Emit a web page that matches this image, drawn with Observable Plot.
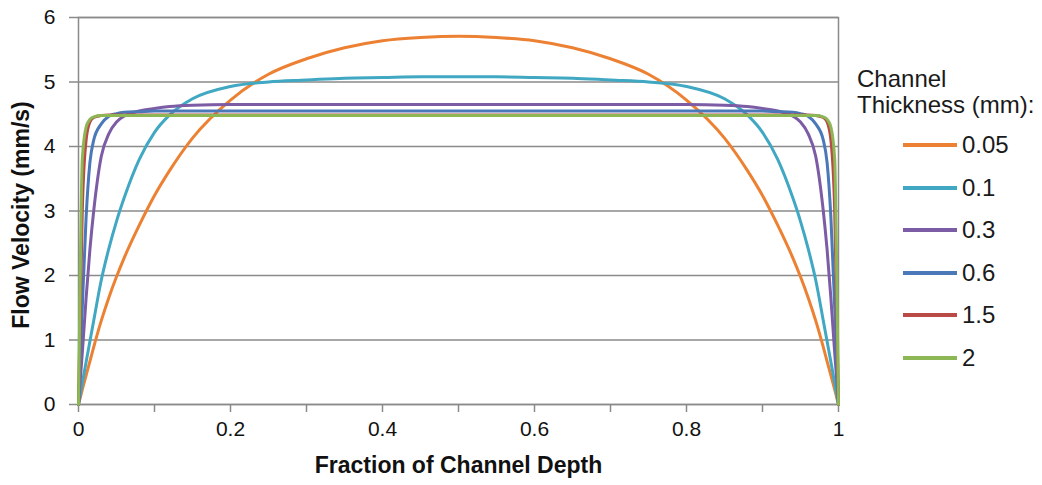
<!DOCTYPE html>
<html>
<head>
<meta charset="utf-8">
<script src="https://cdn.jsdelivr.net/npm/d3@7"></script>
<script src="https://cdn.jsdelivr.net/npm/@observablehq/plot@0.6"></script>
<style>
  body { margin: 0; background: #fff; font-family: "Liberation Sans", Arial, sans-serif; }
  #wrap { position: relative; width: 1042px; height: 485px; }
  #legend-title { position: absolute; left: 857px; top: 66px; font-size: 24px; line-height: 26px; color: #1a1a1a; white-space: nowrap; }
  .item { position: absolute; left: 903px; height: 26px; display: flex; align-items: center; font-size: 24px; color: #1a1a1a; }
  .swatch { display: inline-block; width: 54px; height: 4px; margin-right: 5px; }
</style>
</head>
<body>
<div id="wrap"></div>
<script>
// Fraction of channel depth at which velocities were sampled
const depth = [0, 0.002, 0.005, 0.01, 0.015, 0.02, 0.03, 0.04, 0.05, 0.06, 0.08, 0.1, 0.12, 0.15, 0.2, 0.25, 0.3, 0.35, 0.4, 0.45, 0.5,
               0.55, 0.6, 0.65, 0.7, 0.75, 0.8, 0.85, 0.88, 0.9, 0.92, 0.94, 0.95, 0.96, 0.97, 0.98, 0.985, 0.99, 0.995, 0.998, 1];

// Channel thickness (mm) of each profile
const thickness = ["0.05", "0.1", "0.3", "0.6", "1.5", "2"];

// Flow velocity (mm/s) per thickness
const vel005 = [0, 0.09, 0.23, 0.45, 0.67, 0.89, 1.3, 1.66, 1.98, 2.27, 2.78, 3.24, 3.63, 4.13, 4.72, 5.12, 5.36, 5.53, 5.64, 5.69, 5.71,
                5.69, 5.64, 5.53, 5.36, 5.12, 4.72, 4.13, 3.63, 3.24, 2.78, 2.27, 1.98, 1.66, 1.3, 0.89, 0.67, 0.45, 0.23, 0.09, 0];
const vel01 = [0, 0.13, 0.33, 0.66, 0.98, 1.3, 1.93, 2.42, 2.84, 3.2, 3.8, 4.22, 4.49, 4.74, 4.93, 5.0, 5.03, 5.06, 5.07, 5.08, 5.08,
               5.08, 5.07, 5.06, 5.03, 5.0, 4.93, 4.74, 4.49, 4.22, 3.8, 3.2, 2.84, 2.42, 1.93, 1.3, 0.98, 0.66, 0.33, 0.13, 0];
const vel03 = [0, 0.33, 0.8, 1.65, 2.4, 3.0, 3.85, 4.2, 4.38, 4.47, 4.55, 4.59, 4.62, 4.64, 4.65, 4.65, 4.65, 4.65, 4.65, 4.65, 4.65,
               4.65, 4.65, 4.65, 4.65, 4.65, 4.65, 4.64, 4.62, 4.59, 4.55, 4.47, 4.38, 4.2, 3.85, 3.0, 2.4, 1.65, 0.8, 0.33, 0];
const vel06 = [0, 0.6, 1.5, 2.9, 3.75, 4.1, 4.35, 4.47, 4.51, 4.53, 4.54, 4.55, 4.55, 4.55, 4.55, 4.55, 4.55, 4.55, 4.55, 4.55, 4.55,
               4.55, 4.55, 4.55, 4.55, 4.55, 4.55, 4.55, 4.55, 4.55, 4.54, 4.53, 4.51, 4.47, 4.35, 4.1, 3.75, 2.9, 1.5, 0.6, 0];
const vel15 = [0, 1.2, 3.0, 4.1, 4.38, 4.45, 4.48, 4.49, 4.49, 4.49, 4.49, 4.49, 4.49, 4.49, 4.49, 4.49, 4.49, 4.49, 4.49, 4.49, 4.49,
               4.49, 4.49, 4.49, 4.49, 4.49, 4.49, 4.49, 4.49, 4.49, 4.49, 4.49, 4.49, 4.49, 4.48, 4.45, 4.38, 4.1, 3.0, 1.2, 0];
const vel2 = [0, 1.8, 3.8, 4.3, 4.42, 4.46, 4.48, 4.48, 4.48, 4.48, 4.48, 4.48, 4.48, 4.48, 4.48, 4.48, 4.48, 4.48, 4.48, 4.48, 4.48,
              4.48, 4.48, 4.48, 4.48, 4.48, 4.48, 4.48, 4.48, 4.48, 4.48, 4.48, 4.48, 4.48, 4.48, 4.46, 4.42, 4.3, 3.8, 1.8, 0];

const seriesColors = ["#EC8133", "#40A8C2", "#7D5CA6", "#4A78B8", "#B94A46", "#8DB654"];

// Axis ticks
const yTicks = [0, 1, 2, 3, 4, 5, 6];
const xTicks = [0, 0.2, 0.4, 0.6, 0.8, 1];
const xMinorTicks = [0.1, 0.3, 0.5, 0.7, 0.9];

const xTitle = "Fraction of Channel Depth";
const yTitle = "Flow Velocity (mm/s)";
const legendTitle = ["Channel", "Thickness (mm):"];

const velocities = [vel005, vel01, vel03, vel06, vel15, vel2];
const rows = thickness.flatMap((t, s) =>
  depth.map((d, i) => ({ series: t, depth: d, velocity: velocities[s][i] }))
);

const grey = "#8a8a8a";
const font = "'Liberation Sans', Arial, sans-serif";

const chart = Plot.plot({
  width: 1042,
  height: 485,
  marginLeft: 78,
  marginRight: 204,
  marginTop: 17,
  marginBottom: 81,
  style: { fontFamily: font, fontSize: "21px", color: "#111", background: "#fff", overflow: "visible" },
  x: { domain: [0, 1] },
  y: { domain: [0, 6] },
  color: { domain: thickness, range: seriesColors },
  marks: [
    Plot.gridY(yTicks, { stroke: grey, strokeOpacity: 1, strokeWidth: 1.5 }),
    Plot.frame({ stroke: grey, strokeWidth: 1.5 }),
    Plot.axisY(yTicks, { tickSize: 9, tickPadding: 14, stroke: grey, strokeWidth: 1.5, fontSize: 21, label: null, tickFormat: d => String(d) }),
    Plot.axisX(xMinorTicks, { tickSize: 8, stroke: grey, strokeWidth: 1.5, text: null, label: null }),
    Plot.axisX(xTicks, { tickSize: 8, tickPadding: 9, stroke: grey, strokeWidth: 1.5, fontSize: 21, label: null, tickFormat: d => String(d) }),
    Plot.line(rows, { x: "depth", y: "velocity", z: "series", stroke: "series", strokeWidth: 3, curve: "monotone-x" }),
    Plot.text([xTitle], { frameAnchor: "bottom", dy: 68, fontWeight: "bold", fontSize: 23, fill: "#111" }),
    Plot.text([yTitle], { frameAnchor: "left", textAnchor: "middle", rotate: -90, dx: -57, dy: 4, fontWeight: "bold", fontSize: 23, fill: "#111" })
  ]
});

const wrap = document.getElementById("wrap");
wrap.appendChild(chart);

// Legend on the right
const colorScale = chart.scale("color");
const title = document.createElement("div");
title.id = "legend-title";
title.innerHTML = legendTitle.join("<br>");
wrap.appendChild(title);

const legendY = [145, 187.5, 230, 272.5, 315, 357.5];
thickness.forEach((t, i) => {
  const item = document.createElement("div");
  item.className = "item";
  item.style.top = (legendY[i] - 13) + "px";
  const sw = document.createElement("span");
  sw.className = "swatch";
  sw.style.background = colorScale.apply(t);
  item.appendChild(sw);
  item.appendChild(document.createTextNode(t));
  wrap.appendChild(item);
});
</script>
</body>
</html>
